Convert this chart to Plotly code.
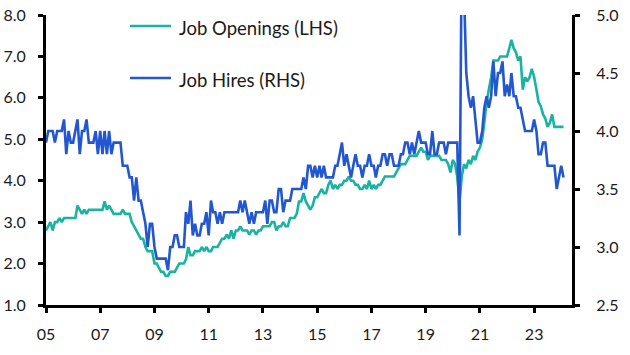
import pandas as pd
import plotly.graph_objects as go

# Monthly data, Jan 2005 .. Feb 2024
dates = pd.date_range("2005-01-01", periods=230, freq="MS")

job_openings = [
    2.8, 2.9, 3.0, 2.8, 3.0, 3.0, 3.1, 3.0, 3.1, 3.1, 3.1, 3.1,  # 2005
    3.1, 3.1, 3.4, 3.3, 3.2, 3.3, 3.2, 3.3, 3.3, 3.3, 3.3, 3.3,  # 2006
    3.3, 3.3, 3.5, 3.3, 3.4, 3.3, 3.2, 3.2, 3.2, 3.2, 3.3, 3.2,  # 2007
    3.2, 3.2, 3.0, 2.9, 2.8, 2.7, 2.6, 2.6, 2.4, 2.3, 2.3, 2.3,  # 2008
    2.0, 2.0, 1.9, 1.8, 1.8, 1.7, 1.7, 1.8, 1.8, 1.8, 1.9, 2.0,  # 2009
    2.0, 2.0, 2.1, 2.4, 2.2, 2.2, 2.3, 2.3, 2.3, 2.4, 2.3, 2.4,  # 2010
    2.3, 2.3, 2.4, 2.4, 2.4, 2.5, 2.6, 2.6, 2.7, 2.6, 2.8, 2.6,  # 2011
    2.8, 2.8, 2.9, 2.8, 2.8, 2.8, 2.7, 2.8, 2.8, 2.7, 2.8, 2.8,  # 2012
    2.9, 2.9, 2.9, 2.9, 3.0, 3.0, 2.8, 2.9, 2.9, 3.0, 2.9, 2.9,  # 2013
    3.1, 3.1, 3.1, 3.2, 3.5, 3.5, 3.7, 3.5, 3.4, 3.3, 3.4, 3.6,  # 2014
    3.6, 3.7, 3.8, 3.7, 3.7, 3.9, 4.0, 3.8, 3.9, 3.8, 3.9, 3.9,  # 2015
    4.0, 4.0, 4.1, 4.0, 4.0, 3.9, 3.9, 3.8, 3.8, 3.9, 3.8, 4.0,  # 2016
    3.8, 3.9, 3.8, 3.9, 3.9, 4.0, 4.1, 4.1, 4.1, 4.1, 4.1, 4.2,  # 2017
    4.3, 4.4, 4.4, 4.4, 4.5, 4.6, 4.6, 4.6, 4.6, 4.7, 4.8, 4.7,  # 2018
    4.7, 4.5, 4.6, 4.6, 4.6, 4.6, 4.6, 4.5, 4.5, 4.5, 4.4, 4.2,  # 2019
    4.5, 4.4, 4.1, 3.5, 4.1, 4.4, 4.3, 4.5, 4.4, 4.6, 4.5, 4.7,  # 2020
    4.8, 5.0, 5.4, 5.9, 6.2, 6.5, 6.9, 6.9, 6.9, 7.0, 7.0, 7.0,  # 2021
    7.0, 7.2, 7.4, 7.2, 7.1, 6.9, 7.0, 6.2, 6.5, 6.4, 6.5, 6.7,  # 2022
    6.5, 6.2, 5.9, 5.8, 5.6, 5.5, 5.3, 5.4, 5.6, 5.3, 5.3, 5.3,  # 2023
    5.3, 5.3,                                                    # 2024
]

job_hires = [
    3.9, 4.0, 4.0, 4.0, 3.9, 4.0, 4.0, 4.0, 4.1, 3.8, 4.0, 3.9,  # 2005
    3.9, 4.0, 4.1, 3.8, 4.0, 4.0, 4.1, 3.9, 3.9, 3.9, 4.0, 3.8,  # 2006
    4.0, 3.8, 4.0, 3.8, 4.0, 3.8, 3.9, 3.9, 3.9, 3.9, 3.7, 3.7,  # 2007
    3.7, 3.6, 3.6, 3.4, 3.6, 3.4, 3.4, 3.3, 3.2, 3.0, 3.2, 3.2,  # 2008
    3.0, 2.9, 2.9, 2.9, 2.9, 2.9, 2.8, 3.0, 3.0, 3.1, 3.1, 3.0,  # 2009
    3.0, 3.0, 3.3, 3.2, 3.4, 3.1, 3.2, 3.1, 3.1, 3.2, 3.2, 3.3,  # 2010
    3.1, 3.4, 3.3, 3.3, 3.2, 3.3, 3.2, 3.3, 3.3, 3.3, 3.3, 3.3,  # 2011
    3.3, 3.3, 3.4, 3.3, 3.4, 3.3, 3.2, 3.3, 3.2, 3.3, 3.3, 3.3,  # 2012
    3.3, 3.4, 3.2, 3.4, 3.4, 3.3, 3.3, 3.5, 3.5, 3.3, 3.4, 3.4,  # 2013
    3.4, 3.5, 3.5, 3.5, 3.5, 3.5, 3.6, 3.5, 3.7, 3.7, 3.6, 3.7,  # 2014
    3.6, 3.7, 3.6, 3.7, 3.6, 3.6, 3.6, 3.6, 3.7, 3.7, 3.8, 3.9,  # 2015
    3.7, 3.8, 3.7, 3.6, 3.7, 3.8, 3.7, 3.7, 3.6, 3.7, 3.7, 3.8,  # 2016
    3.7, 3.7, 3.6, 3.7, 3.7, 3.8, 3.8, 3.7, 3.8, 3.8, 3.7, 3.7,  # 2017
    3.7, 3.8, 3.8, 3.9, 3.9, 3.8, 3.9, 3.8, 3.9, 4.0, 3.9, 3.9,  # 2018
    3.9, 3.8, 3.8, 4.0, 3.8, 3.8, 3.9, 3.9, 3.9, 3.8, 3.9, 3.9,  # 2019
    3.9, 3.9, 3.9, 3.1, 5.6, 5.2, 4.5, 4.3, 4.2, 4.3, 4.1, 3.9,  # 2020
    3.9, 4.0, 4.2, 4.3, 4.2, 4.3, 4.6, 4.3, 4.5, 4.5, 4.6, 4.3,  # 2021
    4.4, 4.3, 4.5, 4.3, 4.3, 4.2, 4.2, 4.1, 4.0, 4.0, 4.0, 4.0,  # 2022
    4.1, 4.0, 3.8, 3.8, 3.9, 3.9, 3.7, 3.7, 3.7, 3.7, 3.5, 3.6,  # 2023
    3.7, 3.6,                                                    # 2024
]

x_tick_vals = ["2005-01-01", "2007-01-01", "2009-01-01", "2011-01-01", "2013-01-01",
               "2015-01-01", "2017-01-01", "2019-01-01", "2021-01-01", "2023-01-01"]
x_tick_text = ["05", "07", "09", "11", "13", "15", "17", "19", "21", "23"]
left_ticks = [1.0, 2.0, 3.0, 4.0, 5.0, 6.0, 7.0, 8.0]
right_ticks = [2.5, 3.0, 3.5, 4.0, 4.5, 5.0]

series_names = ["Job Openings (LHS)", "Job Hires (RHS)"]
TEAL = "#1ab3a2"
BLUE = "#2357cf"
FONT = "Lato"

fig = go.Figure()
fig.add_trace(go.Scatter(x=dates, y=job_openings, name=series_names[0], mode="lines",
                         line=dict(color=TEAL, width=2.6), yaxis="y"))
fig.add_trace(go.Scatter(x=dates, y=job_hires, name=series_names[1], mode="lines",
                         line=dict(color=BLUE, width=2.6), yaxis="y2"))

axis_common = dict(showgrid=False, zeroline=False, showline=True, linecolor="black",
                   linewidth=3, ticks="outside", ticklen=5, tickwidth=2.5, tickcolor="black",
                   automargin=False,
                   tickfont=dict(family=FONT, size=16, color="#1a1a1a"))

fig.update_layout(
    width=630, height=355,
    margin=dict(l=46, r=58, t=15, b=50, autoexpand=False),
    paper_bgcolor="white", plot_bgcolor="white",
    showlegend=False,
    xaxis=dict(type="date", range=["2005-01-01", "2024-05-25"],
               tickmode="array", tickvals=x_tick_vals, ticktext=x_tick_text,
               ticklabelstandoff=8, **axis_common),
    yaxis=dict(range=[1.0, 8.0], tickmode="array", tickvals=left_ticks,
               tickformat=".1f", ticklabelstandoff=9, **axis_common),
    yaxis2=dict(range=[2.5, 5.0], overlaying="y", side="right", tickmode="array",
                tickvals=right_ticks, tickformat=".1f", ticklabelstandoff=13,
                **axis_common),
)

# Legend drawn inside the plot area
legend_rows = [(0.962, 0.955, TEAL, series_names[0]), (0.783, 0.776, BLUE, series_names[1])]
for ly, ty, col, txt in legend_rows:
    fig.add_shape(type="line", xref="paper", yref="paper", x0=0.1597, x1=0.2376,
                  y0=ly, y1=ly, line=dict(color=col, width=2.6))
    fig.add_annotation(xref="paper", yref="paper", x=0.249, y=ty, text=txt,
                       showarrow=False, xanchor="left", yanchor="middle",
                       font=dict(family=FONT, size=18.5, color="#1a1a1a"))

fig.write_html("out.html", config={"displayModeBar": False},
               post_script="document.body.style.margin='0px';"
                           "document.body.style.overflow='hidden';")
